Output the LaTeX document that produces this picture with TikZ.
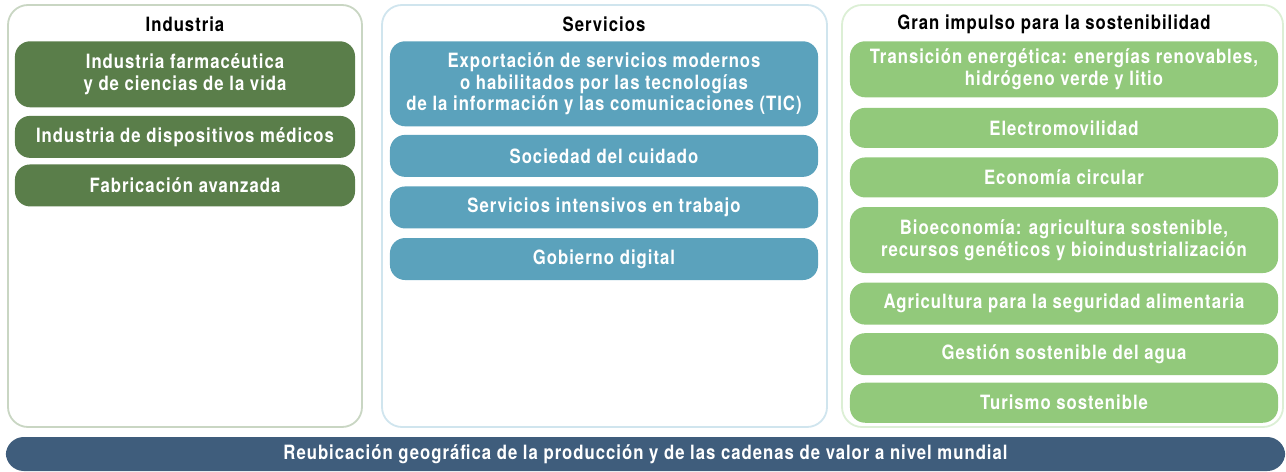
\documentclass[tikz,border=0pt]{standalone}
\usepackage{fontspec}
\setmainfont{TeX Gyre Heros}[FakeStretch=0.85, LetterSpace=5]
\usetikzlibrary{positioning}

\definecolor{indframe}{HTML}{C9D6C3}
\definecolor{serframe}{HTML}{D0E5EE}
\definecolor{susframe}{HTML}{DCEFD5}
\definecolor{indfill}{HTML}{5A7E4A}
\definecolor{serfill}{HTML}{5BA2BC}
\definecolor{susfill}{HTML}{92C97B}
\definecolor{barfill}{HTML}{3F5D7C}

\begin{document}
\begin{tikzpicture}[x=0.025cm, y=-0.025cm, node distance=0.2cm,
    font=\bfseries\fontsize{14}{15.6}\selectfont,
    panel/.style={draw, line width=1.3pt, rounded corners=0.5cm},
    block/.style={rectangle, rounded corners=0.38cm, text=white, align=center, inner sep=2pt},
    indbox/.style={block, fill=indfill, minimum width=8.5cm},
    serbox/.style={block, fill=serfill, minimum width=10.7cm},
    susbox/.style={block, fill=susfill, minimum width=10.7cm}]

    \useasboundingbox (0,0) rectangle (1286,472);

    % Marcos
    \draw[panel, draw=indframe] (8,5) rectangle (362,427);
    \draw[panel, draw=serframe] (382,5) rectangle (827,427);
    \draw[panel, draw=susframe] (842,5) rectangle (1283,427);

    % Industria
    \node (indtitle) at (185,24) {Industria};
    \node[indbox, minimum height=1.65cm, anchor=north] (farma) at (185,41) {Industria farmacéutica\\y de ciencias de la vida};
    \node[indbox, minimum height=1.05cm, below=0.2cm of farma] (medicos) {Industria de dispositivos médicos};
    \node[indbox, minimum height=1.05cm, below=0.15cm of medicos] (avanzada) {Fabricación avanzada};

    % Servicios
    \node (sertitle) at (604,24) {Servicios};
    \node[serbox, minimum height=2.125cm, anchor=north] (tic) at (604,41) {Exportación de servicios modernos\\o habilitados por las tecnologías\\de la información y las comunicaciones (TIC)};
    \node[serbox, minimum height=1.05cm, below=0.2cm of tic] (cuidado) {Sociedad del cuidado};
    \node[serbox, minimum height=1.05cm, below=0.225cm of cuidado] (trabajo) {Servicios intensivos en trabajo};
    \node[serbox, minimum height=1.05cm, below=0.225cm of trabajo] (gobierno) {Gobierno digital};

    % Gran impulso para la sostenibilidad
    \node (sustitle) at (1054,24) {Gran impulso para la sostenibilidad};
    \node[susbox, minimum height=1.4cm, anchor=north] (energia) at (1064,41) {Transición energética: energías renovables,\\hidrógeno verde y litio};
    \node[susbox, minimum height=1cm, below=0.25cm of energia] (movilidad) {Electromovilidad};
    \node[susbox, minimum height=1cm, below=0.225cm of movilidad] (circular) {Economía circular};
    \node[susbox, minimum height=1.65cm, below=0.225cm of circular] (bioeco) {Bioeconomía: agricultura sostenible,\\recursos genéticos y bioindustrialización};
    \node[susbox, minimum height=1.05cm, below=0.225cm of bioeco] (alimentaria) {Agricultura para la seguridad alimentaria};
    \node[susbox, minimum height=1.05cm, below=0.2cm of alimentaria] (agua) {Gestión sostenible del agua};
    \node[susbox, minimum height=1cm, below=0.175cm of agua] (turismo) {Turismo sostenible};

    % Barra inferior
    \node[block, fill=barfill, rounded corners=0.45cm, minimum width=31.975cm, minimum height=0.85cm] (reubica) at (645.5,454) {Reubicación geográfica de la producción y de las cadenas de valor a nivel mundial};

\end{tikzpicture}
\end{document}
